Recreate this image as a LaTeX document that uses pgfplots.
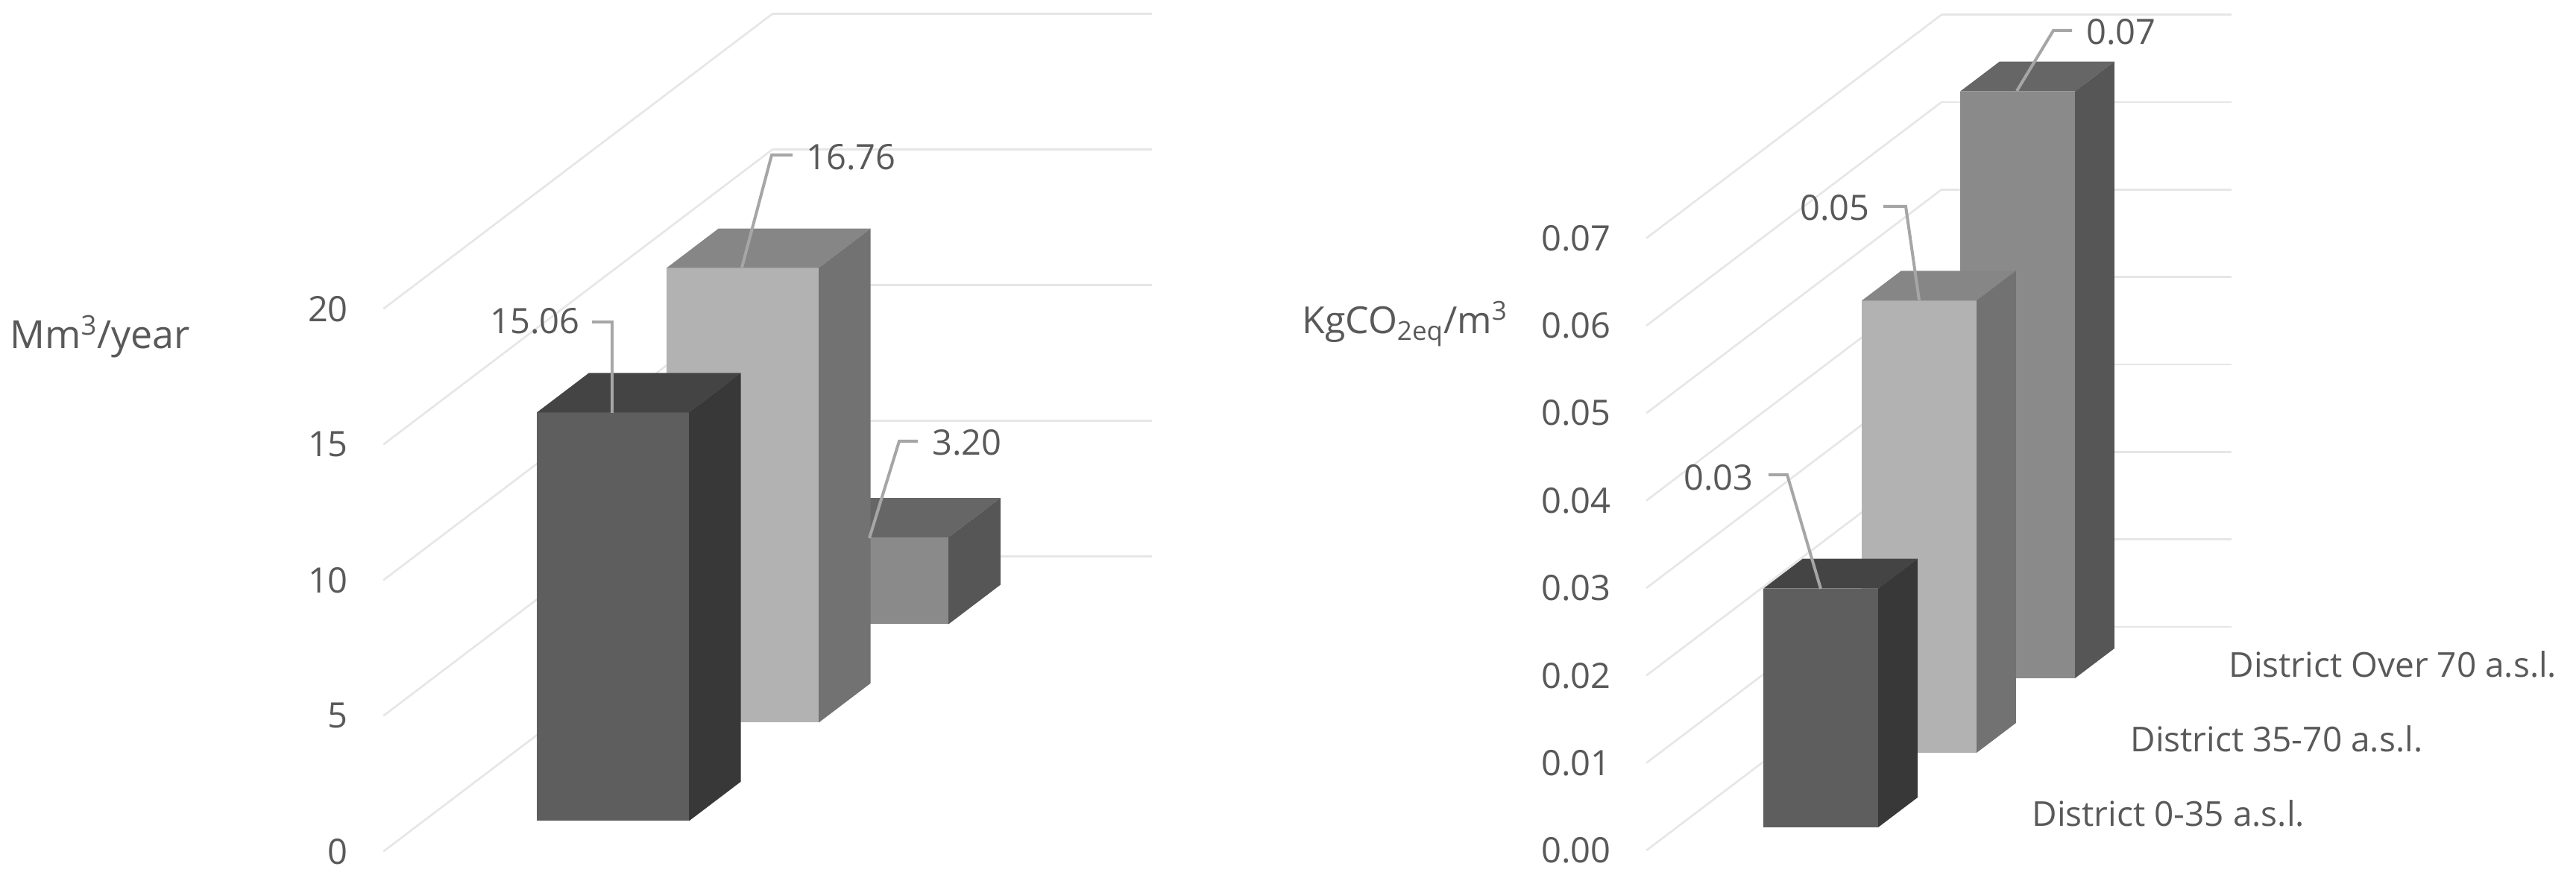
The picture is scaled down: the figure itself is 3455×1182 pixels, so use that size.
\documentclass[border=0pt]{standalone}
\usepackage{pgfplots}
\pgfplotsset{compat=1.18}
\usepackage{fontspec}
\setmainfont{Open Sans}

\definecolor{txt}{HTML}{595959}
\definecolor{gridc}{HTML}{E6E6E6}
\definecolor{leader}{HTML}{A6A6A6}
\definecolor{aF}{HTML}{5E5E5E}\definecolor{aT}{HTML}{444444}\definecolor{aS}{HTML}{383838}
\definecolor{bF}{HTML}{B2B2B2}\definecolor{bT}{HTML}{868686}\definecolor{bS}{HTML}{727272}
\definecolor{cF}{HTML}{8A8A8A}\definecolor{cT}{HTML}{666666}\definecolor{cS}{HTML}{565656}

% one 3D column: x0 x1 y0 y1 value, colours front top side
\newcommand{\cuboid}[8]{%
  \addplot3[fill=#6,draw=none,forget plot] coordinates {(#1,#3,0)(#2,#3,0)(#2,#3,#5)(#1,#3,#5)};
  \addplot3[fill=#7,draw=none,forget plot] coordinates {(#1,#3,#5)(#2,#3,#5)(#2,#4,#5)(#1,#4,#5)};
  \addplot3[fill=#8,draw=none,forget plot] coordinates {(#2,#3,0)(#2,#4,0)(#2,#4,#5)(#2,#3,#5)};
}

\pgfplotsset{
  walls/.style={
    anchor=origin, clip=false,
    axis line style={draw=none}, major tick length=0pt,
    xtick=\empty,
    zmajorgrids=true, ymajorgrids=false, xmajorgrids=false,
    major grid style={gridc,line width=1.3pt},
    tick label style={font=\fontsize{23.5}{28}\selectfont,text=txt,inner sep=0pt},
    zticklabel style={anchor=east,xshift=-23.5pt},
    /pgf/number format/assume math mode=true,
  },
}

\begin{document}
\begin{tikzpicture}[x=0.5pt,y=0.5pt,font=\fontsize{23.5}{28}\selectfont]
\path[use as bounding box] (0,0) rectangle (3455,1182);

% left chart (volume)
\begin{axis}[walls,
  at={(462,30)},
  x={(0.5pt,0pt)}, y={(87pt,66pt)}, z={(0pt,18.2pt)},
  xmin=0, xmax=509, ymin=0, ymax=3, zmin=0, zmax=20,
  ytick=\empty, ztick={0,5,10,15,20},
]
\cuboid{152}{356}{2.31}{2.71}{3.20}{cF}{cT}{cS}
\cuboid{152}{356}{1.31}{1.71}{16.76}{bF}{bT}{bS}
\cuboid{152}{356}{0.31}{0.71}{15.06}{aF}{aT}{aS}
\end{axis}

% right chart (emissions)
\begin{axis}[walls,
  at={(2154,41)},
  x={(0.5pt,0pt)}, y={(66pt,50pt)}, z={(0pt,5867pt)},
  xmin=0, xmax=389, ymin=0, ymax=3, zmin=0, zmax=0.07,
  ytick={0.5,1.5,2.5},
  yticklabel style={anchor=west,xshift=31pt,font=\fontsize{23}{28}\selectfont},
  yticklabels={District 0-35 a.s.l.,District 35-70 a.s.l.,District Over 70 a.s.l.},
  ztick={0,0.01,0.02,0.03,0.04,0.05,0.06,0.07},
  scaled z ticks=false,
  zticklabel style={/pgf/number format/fixed,/pgf/number format/fixed zerofill,/pgf/number format/precision=2},
]
\cuboid{116}{270}{2.31}{2.71}{0.0671}{cF}{cT}{cS}
\cuboid{116}{270}{1.31}{1.71}{0.0517}{bF}{bT}{bS}
\cuboid{116}{270}{0.31}{0.71}{0.0273}{aF}{aT}{aS}
\end{axis}

% axis titles
\node[text=txt,anchor=base west,inner sep=0pt,font=\fontsize{26}{30}\selectfont] at (13,714) {Mm\textsuperscript{3}/year};
\node[text=txt,anchor=base west,inner sep=0pt,font=\fontsize{25}{30}\selectfont] at (1746,734) {KgCO\textsubscript{2eq}/m\textsuperscript{3}};

% callouts, positions in image pixels (y up)
\begin{scope}[leader,line width=2pt]
\draw (794,750) -- (821,750) -- (821,628);
\draw (995,823) -- (1035,974) -- (1063,974);
\draw (1166,460) -- (1206,590) -- (1231,590);
\draw (2372,545) -- (2397,545) -- (2442,392);
\draw (2526,905) -- (2556,905) -- (2574,779);
\draw (2705,1060) -- (2754,1141) -- (2779,1141);
\end{scope}
\begin{scope}[every node/.style={text=txt,inner sep=0pt}]
\node[anchor=east] at (778,751) {15.06};
\node[anchor=west] at (1081,971) {16.76};
\node[anchor=west] at (1250,588) {3.20};
\node[anchor=east] at (2352,541) {0.03};
\node[anchor=east] at (2508,903) {0.05};
\node[anchor=west] at (2798,1139) {0.07};
\end{scope}
\end{tikzpicture}
\end{document}
